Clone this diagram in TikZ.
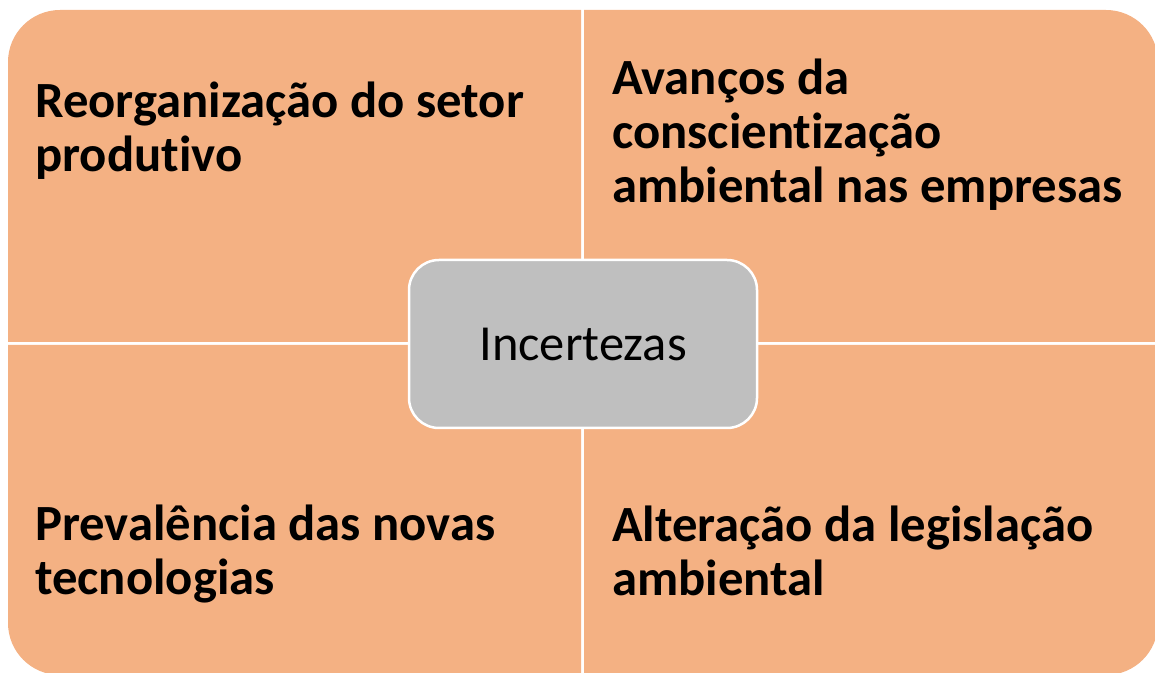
\documentclass[tikz,border=0pt]{standalone}
\usepackage{fontspec}
\setmainfont[Ligatures=NoCommon]{Carlito}
\definecolor{quadfill}{HTML}{F4B183}
\definecolor{centerfill}{HTML}{BFBFBF}
\tikzset{
  quad/.style={fill=quadfill},
  quadtext/.style={anchor=base west, inner sep=0pt, align=left, font=\fontsize{50.7}{54}\selectfont\bfseries, text=black},
  centerbox/.style={draw=white, line width=2.5pt, fill=centerfill, rounded corners=30pt, minimum width=348pt, minimum height=168pt, inner sep=0pt, font=\fontsize{50.5}{58}\selectfont, text=black}
}
\begin{document}
\begin{tikzpicture}[x=1pt,y=1pt]
\useasboundingbox (0,0) rectangle (1155,672);
% quadrants
\fill[quad] (8,330) -- (8,610) arc (180:90:52) -- (581,662) -- (581,330) -- cycle;
\fill[quad] (584,330) -- (584,662) -- (1106,662) arc (90:0:52) -- (1158,330) -- cycle;
\fill[quad] (8,327) -- (8,49) arc (180:270:52) -- (581,-3) -- (581,327) -- cycle;
\fill[quad] (584,327) -- (584,-3) -- (1106,-3) arc (270:360:52) -- (1158,327) -- cycle;
% texts (anchored at the baseline of the last line)
\node[quadtext] (tl) at (35,500) {Reorganização do setor\\produtivo};
\node[quadtext] (tr) at (612,469) {Avanços da\\conscientização\\ambiental nas empresas};
\node[quadtext] (bl) at (35,78) {Prevalência das novas\\tecnologias};
\node[quadtext] (br) at (612,77) {Alteração da legislação\\ambiental};
% center
\node[centerbox] (c) at (583,328) {Incertezas};
\end{tikzpicture}
\end{document}
